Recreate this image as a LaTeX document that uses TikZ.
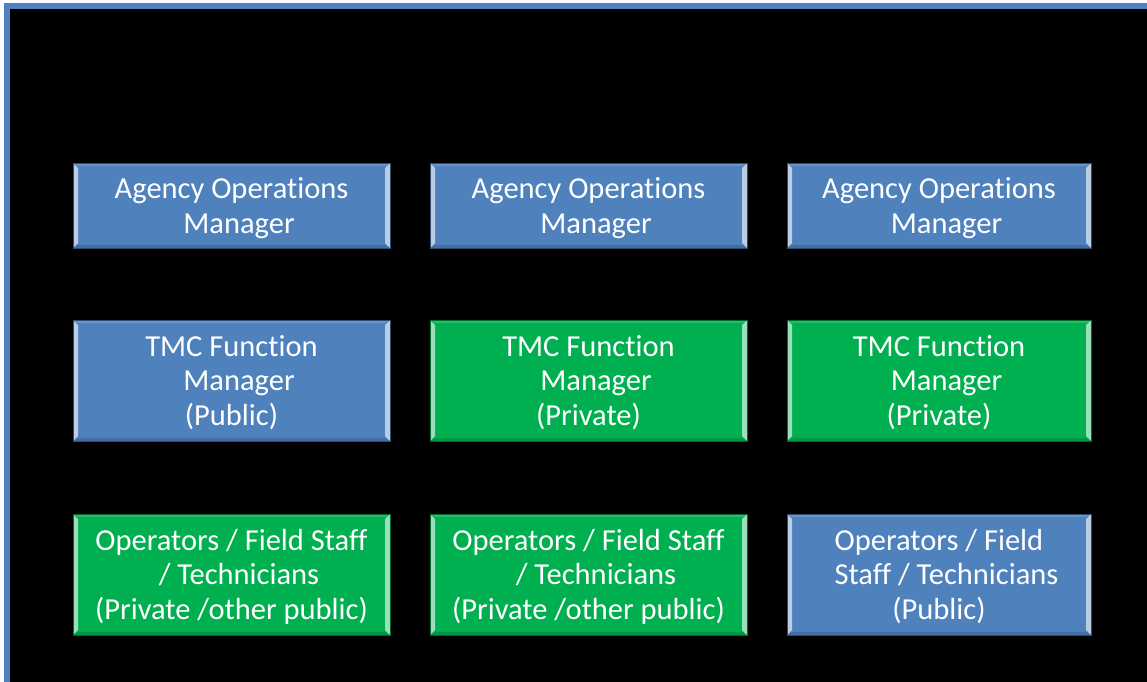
\documentclass[tikz,border=0pt]{standalone}
\usepackage{fontspec}
\setmainfont{Carlito}[Ligatures=NoCommon]
\definecolor{frameblue}{HTML}{4F81BD}
\definecolor{tileblue}{HTML}{4F81BD}
\definecolor{tilegreen}{HTML}{00B050}
\tikzset{
  tile/.style={rectangle, inner sep=0pt, text=white,
    font=\fontsize{30.5}{34.5}\selectfont, minimum width=317pt,
    fill=#1, draw=#1!60!black, line width=0.6pt,
    path picture={
      \fill[#1!40!white] (path picture bounding box.north west) -- ++(5pt,-5pt)
        -- ([xshift=5pt,yshift=5pt]path picture bounding box.south west)
        -- (path picture bounding box.south west) -- cycle;
      \fill[#1!40!white] (path picture bounding box.north east) -- ++(-5pt,-5pt)
        -- ([xshift=-5pt,yshift=5pt]path picture bounding box.south east)
        -- (path picture bounding box.south east) -- cycle;
      \fill[#1!85!black] (path picture bounding box.south west) -- ++(5pt,3pt)
        -- ([xshift=-5pt,yshift=3pt]path picture bounding box.south east)
        -- (path picture bounding box.south east) -- cycle;
      \fill[#1!85!white] (path picture bounding box.north west) -- ++(5pt,-3pt)
        -- ([xshift=-5pt,yshift=-3pt]path picture bounding box.north east)
        -- (path picture bounding box.north east) -- cycle;
    }},
  toprow/.style={minimum height=85pt},
  lowrow/.style={minimum height=121pt},
  narrow/.style={minimum width=304pt}
}
\newcommand\ind{\hspace*{15pt}}
\newcommand\tiletext[1]{\begin{tabular}{@{}c@{}}\rule{0pt}{31.3pt}#1\end{tabular}}
\begin{document}
\begin{tikzpicture}[x=1pt,y=-1pt]
\useasboundingbox (0,0) rectangle (1147,681);
\begin{scope}
\clip (0,0) rectangle (1147,681);
\fill[white] (0,0) rectangle (1147,681);
\draw[frameblue, line width=6pt, fill=black] (7,6) rectangle (1170,700);
\end{scope}
% row 1
\node[tile=tileblue, toprow] (a1) at (231.5,205.5) {\tiletext{Agency Operations\\\ind Manager}};
\node[tile=tileblue, toprow] (a2) at (588.5,205.5) {\tiletext{Agency Operations\\\ind Manager}};
\node[tile=tileblue, toprow, narrow] (a3) at (939,205.5) {\tiletext{Agency Operations\\\ind Manager}};
% row 2
\node[tile=tileblue, lowrow] (b1) at (231.5,380.5) {\tiletext{TMC Function\\\ind Manager\\(Public)}};
\node[tile=tilegreen, lowrow] (b2) at (588.5,380.5) {\tiletext{TMC Function\\\ind Manager\\(Private)}};
\node[tile=tilegreen, lowrow, narrow] (b3) at (939,380.5) {\tiletext{TMC Function\\\ind Manager\\(Private)}};
% row 3
\node[tile=tilegreen, lowrow] (c1) at (231.5,574.5) {\tiletext{Operators / Field Staff\\\ind / Technicians\\(Private /other public)}};
\node[tile=tilegreen, lowrow] (c2) at (588.5,574.5) {\tiletext{Operators / Field Staff\\\ind / Technicians\\(Private /other public)}};
\node[tile=tileblue, lowrow, narrow] (c3) at (939,574.5) {\tiletext{Operators / Field\\\ind Staff / Technicians\\(Public)}};
\end{tikzpicture}
\end{document}
